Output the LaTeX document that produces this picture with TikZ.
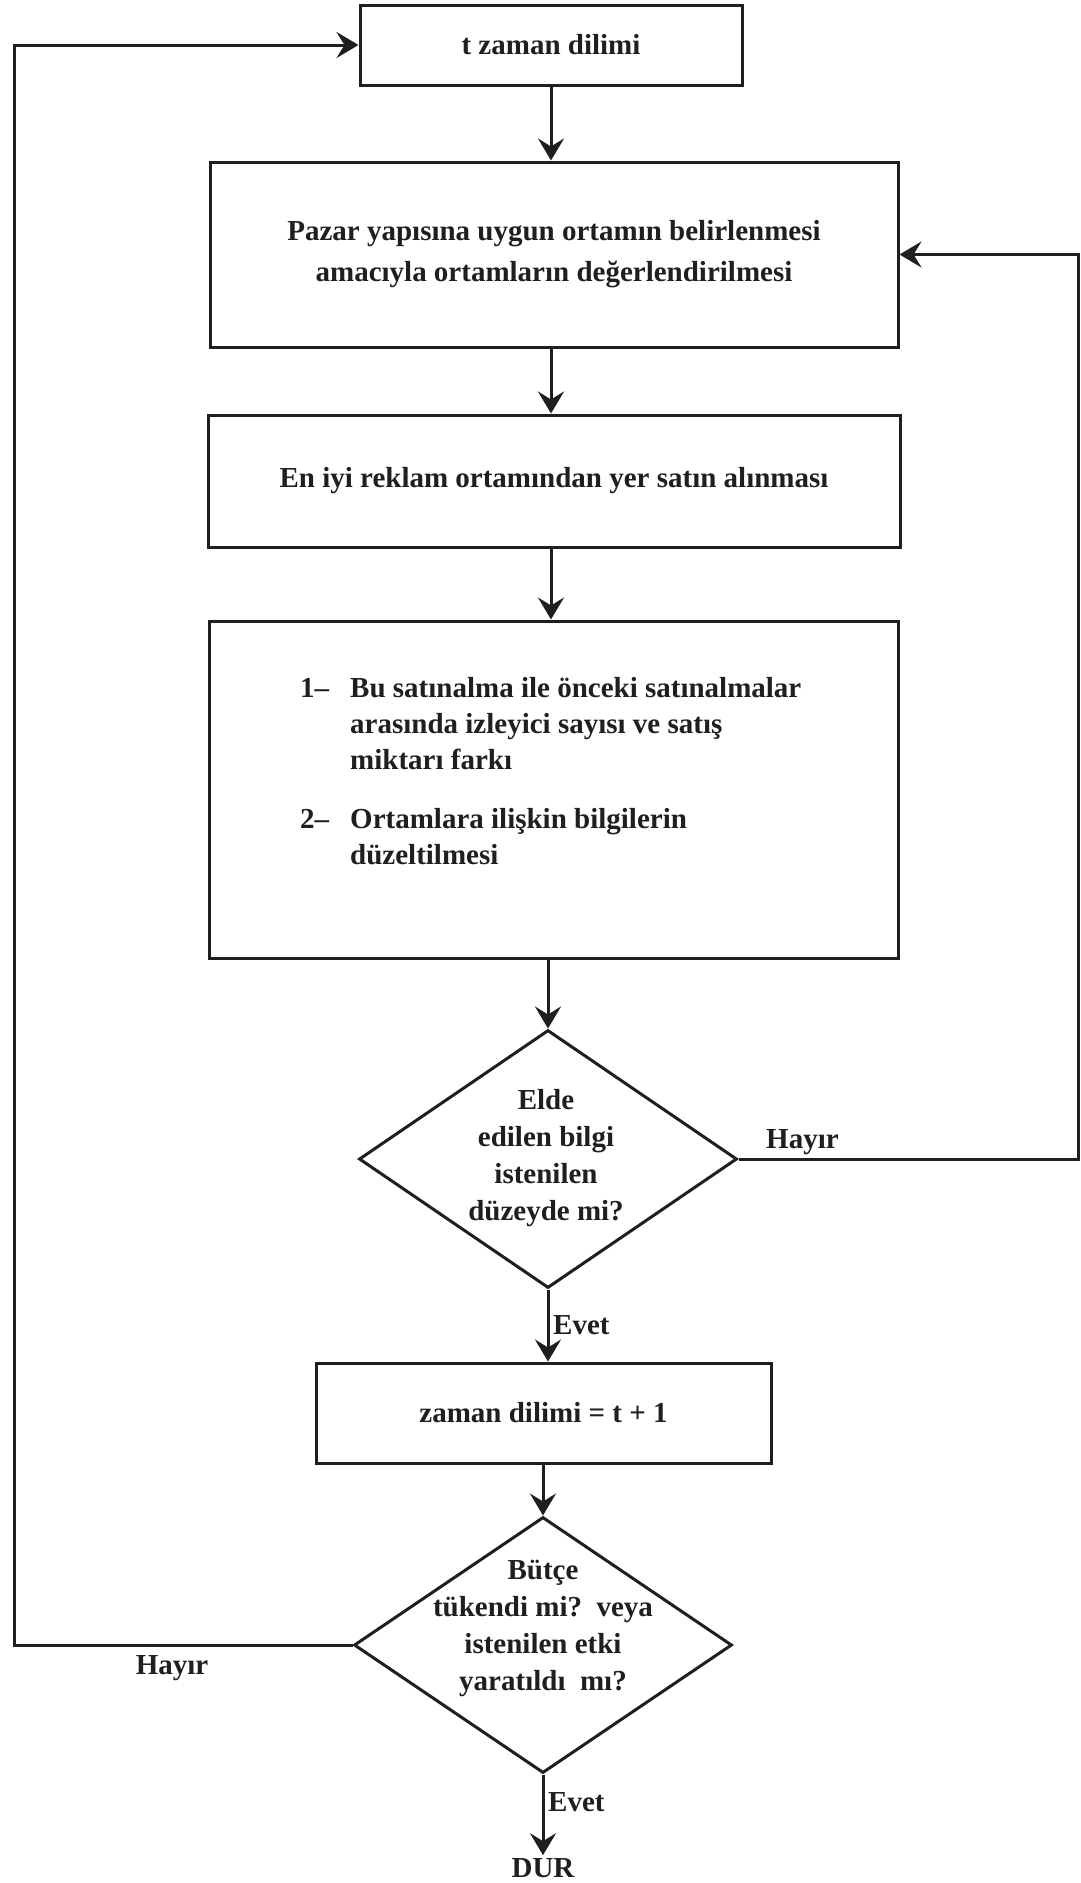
\documentclass[tikz,border=0pt]{standalone}
\usepackage{fontspec}
\setmainfont{Liberation Serif}
\usetikzlibrary{arrows.meta,shapes.geometric}
\definecolor{ink}{gray}{0.12}
\newcommand\flowfont{\fontsize{29}{37}\selectfont\bfseries}
\begin{document}
\begin{tikzpicture}[x=1pt,y=-1pt,
  ln/.style={line width=3pt, draw=ink},
  arr/.style={ln, -{Stealth[length=22pt,width=26pt,inset=8pt]}},
  box/.style={ln, rectangle, inner sep=0pt, align=center, font=\flowfont, text=ink},
  dia/.style={ln, diamond, inner sep=0pt},
  lbl/.style={font=\flowfont, inner sep=0pt, text=ink}]
\useasboundingbox (0,0) rectangle (1081,1883);
\node[box, minimum width=382pt, minimum height=80pt] (b1) at (551,45) {t zaman dilimi};
\node[box, minimum width=688pt, minimum height=185pt, font=\flowfont\fontsize{29}{41}\selectfont] (b2) at (554,254.5) {Pazar yapısına uygun ortamın belirlenmesi\\amacıyla ortamların değerlendirilmesi};
\node[box, minimum width=692pt, minimum height=132pt] (b3) at (554,481) {En iyi reklam ortamından yer satın alınması};
\node[box, minimum width=689pt, minimum height=337pt] (b4) at (553.5,789.5) {};
\node[lbl, anchor=north west, align=left, font=\flowfont\fontsize{29}{36}\selectfont] (t4) at (300,672) {%
\begin{tabular}{@{}l@{\hspace{21pt}}l@{}}
1– & Bu satınalma ile önceki satınalmalar\\
 & arasında izleyici sayısı ve satış\\
 & miktarı farkı\\[23pt]
2– & Ortamlara ilişkin bilgilerin\\
 & düzeltilmesi
\end{tabular}};
\node[dia, minimum width=378pt, minimum height=258pt] (d1) at (548,1159) {};
\node[lbl, align=center] (t5) at (546,1158) {Elde\\edilen bilgi\\istenilen\\düzeyde mi?};
\node[box, minimum width=455pt, minimum height=100pt] (b5) at (543.5,1413) {zaman dilimi = t + 1};
\node[dia, minimum width=378pt, minimum height=256pt] (d2) at (543,1645) {};
\node[lbl, align=center] (t6) at (543,1628) {Bütçe\\tükendi mi?\ \ veya\\istenilen etki\\yaratıldı\ \ mı?};
\node[lbl] (dur) at (543,1868) {DUR};
\node[lbl, anchor=west] (h1) at (766,1142) {Hayır};
\node[lbl] (h2) at (172,1668) {Hayır};
\node[lbl, anchor=west] (e1) at (553,1325) {Evet};
\node[lbl, anchor=west] (e2) at (548,1802) {Evet};
\coordinate (L) at (14,0);
\coordinate (R) at (1078,0);
\draw[arr] (b1.south) -- (b1.south |- b2.north);
\draw[arr] (b1.south |- b2.south) -- (b1.south |- b3.north);
\draw[arr] (b1.south |- b3.south) -- (b1.south |- b4.north);
\draw[arr] (d1.north |- b4.south) -- (d1.north);
\draw[arr] (d1.south) -- (d1.south |- b5.north);
\draw[arr] (d2.north |- b5.south) -- (d2.north);
\draw[arr, shorten >=3pt] (d2.south) -- (dur.north);
\draw[arr] (d1.east) -- (d1.east -| R) |- (b2.east);
\draw[arr] (d2.west) -- (d2.west -| L) |- (b1.west);
\end{tikzpicture}
\end{document}
